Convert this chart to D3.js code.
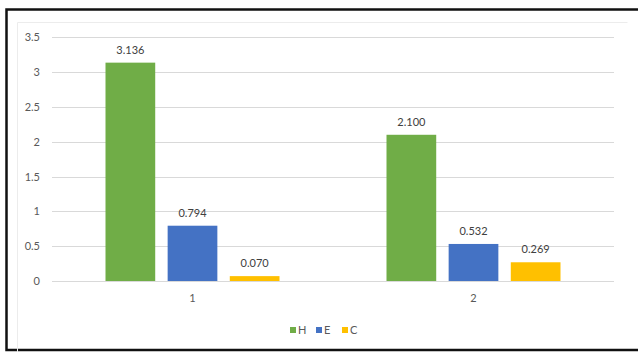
<!DOCTYPE html>
<html><head><meta charset="utf-8">
<script src="https://cdn.jsdelivr.net/npm/d3@7"></script>
<style>html,body{margin:0;background:#fff;overflow:hidden;}svg{display:block;}</style>
</head><body>
<svg id="c" width="638" height="352"></svg>
<script>
const categories = ["1", "2"];
const seriesNames = ["H", "E", "C"];
const valuesH = [3.136, 2.100];
const valuesE = [0.794, 0.532];
const valuesC = [0.070, 0.269];
const yTicks = [0, 0.5, 1, 1.5, 2, 2.5, 3, 3.5];
const colors = ["#70AD47", "#4472C4", "#FFC000"];

const seriesVals = [valuesH, valuesE, valuesC];
const svg = d3.select("#c");
const font = "Lato, 'Open Sans', sans-serif";

// outer frame (top, left, bottom edges only)
svg.append("rect").attr("x", 0).attr("y", 0).attr("width", 638).attr("height", 352).attr("fill", "#fff");
svg.append("path").attr("d", "M638,9.5 H6.5 V350 H638")
  .attr("fill", "none").attr("stroke", "#111").attr("stroke-width", 2.5);
// faint chart area border
svg.append("path").attr("d", "M17.5,352 V22.5 H627.5")
  .attr("fill", "none").attr("stroke", "#ececec").attr("stroke-width", 1);

const pLeft = 52, pRight = 614, pTop = 37.3, pBottom = 281;
const y = d3.scaleLinear().domain([0, 3.5]).range([pBottom, pTop]);
const x0 = d3.scaleBand().domain(categories).range([pLeft, pRight]).padding(0);
const inner = 174;
const x1 = d3.scaleBand().domain(seriesNames)
  .range([(x0.bandwidth() - inner) / 2, (x0.bandwidth() + inner) / 2]).paddingInner(0.2).paddingOuter(0);

// gridlines
svg.append("g").selectAll("line").data(yTicks).join("line")
  .attr("x1", pLeft).attr("x2", pRight)
  .attr("y1", d => Math.round(y(d)) + 0.5).attr("y2", d => Math.round(y(d)) + 0.5)
  .attr("stroke", "#d9d9d9").attr("stroke-width", 1);

// y axis labels
const yAxis = d3.axisLeft(y).tickValues(yTicks).tickSize(0).tickPadding(0).tickFormat(d => d3.format("")(d));
const ya = svg.append("g").attr("transform", `translate(40,0)`).call(yAxis);
ya.select(".domain").remove();
ya.selectAll("text").attr("font-family", font).attr("font-size", 11).attr("fill", "#595959");

// bars
const groups = svg.append("g").selectAll("g").data(categories).join("g")
  .attr("transform", d => `translate(${x0(d)},0)`);
groups.each(function(cat, ci) {
  const g = d3.select(this);
  seriesNames.forEach((s, si) => {
    const v = seriesVals[si][ci];
    g.append("rect").attr("x", x1(s)).attr("width", x1.bandwidth())
      .attr("y", y(v)).attr("height", y(0) - y(v)).attr("fill", colors[si]);
    g.append("text").attr("x", x1(s) + x1.bandwidth() / 2).attr("y", y(v) - 9)
      .attr("text-anchor", "middle").attr("font-family", font).attr("font-size", 11)
      .attr("fill", "#404040").text(d3.format(".3f")(v));
  });
});

// x axis
const xAxis = d3.axisBottom(x0).tickSize(0).tickPadding(0);
const xa = svg.append("g").attr("transform", `translate(0,${pBottom + 13})`).call(xAxis);
xa.select(".domain").remove();
xa.selectAll("text").attr("font-family", font).attr("font-size", 11).attr("fill", "#595959");
svg.append("line").attr("x1", pLeft).attr("x2", pRight).attr("y1", Math.round(pBottom) + 0.5).attr("y2", Math.round(pBottom) + 0.5)
  .attr("stroke", "#d9d9d9");

// legend
const legX = [290, 316, 342];
const leg = svg.append("g");
seriesNames.forEach((s, i) => {
  leg.append("rect").attr("x", legX[i]).attr("y", 327).attr("width", 6).attr("height", 6).attr("fill", colors[i]);
  leg.append("text").attr("x", legX[i] + 8).attr("y", 334).attr("font-family", font).attr("font-size", 11)
    .attr("fill", "#595959").text(s);
});
</script>
</body></html>
